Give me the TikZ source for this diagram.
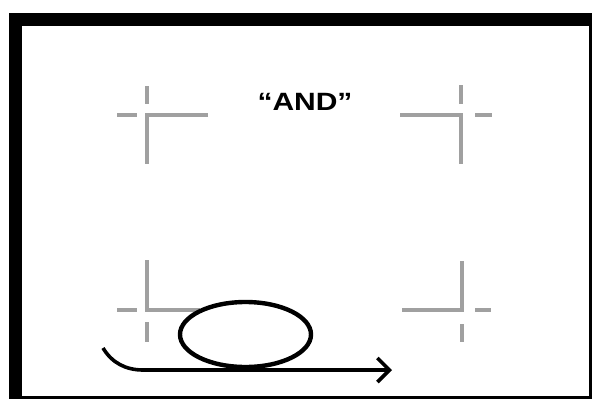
\documentclass[tikz,border=0pt]{standalone}
\usepackage{fontspec}
\setmainfont{Liberation Sans}
\usetikzlibrary{arrows.meta}
\definecolor{markgray}{RGB}{160,160,160}
\tikzset{
  cropmark/.style={draw=markgray, line width=3.2pt},
  inkline/.style={draw=black, line width=4.4pt},
}
\begin{document}
\begin{tikzpicture}[x=1pt,y=-1pt]
\useasboundingbox (0,0) rectangle (594,399);
\fill[white] (0,0) rectangle (594,399);
% frame
\fill[black] (9,13) rectangle (22,399);
\fill[black] (9,13) rectangle (592,26);
\fill[black] (589,13) rectangle (592,399);
\fill[black] (9,396) rectangle (592,399);
% title
\node[font=\bfseries\fontsize{25}{29}\selectfont, xscale=1.2, inner sep=0] (title) at (305,102) {“AND”};
% crop marks top-left
\draw[cropmark] (208,115) -- (147,115) -- (147,164);
\draw[cropmark] (117,115) -- (137,115);
\draw[cropmark] (147,86) -- (147,104);
% top-right
\draw[cropmark] (400,115) -- (461,115) -- (461,164);
\draw[cropmark] (475,115) -- (492,115);
\draw[cropmark] (461,85) -- (461,104);
% bottom-left
\draw[cropmark] (147,260) -- (147,310) -- (200,310);
\draw[cropmark] (117,310) -- (137,310);
\draw[cropmark] (147,322) -- (147,342);
% bottom-right
\draw[cropmark] (462,261) -- (462,310) -- (402,310);
\draw[cropmark] (475,310) -- (491,310);
\draw[cropmark] (462,324) -- (462,342);
% loop
\draw[inkline, fill=none] (245.5,334.5) ellipse [x radius=65.5, y radius=32.5];
\coordinate (s) at (103,348);
\coordinate (b) at (143,370);
\coordinate (e) at (392,370);
\draw[inkline, line width=3.6pt, -{Straight Barb[length=12pt,width=24pt,line width=3.6pt]}] (s) .. controls (112,363) and (126,370) .. (b) -- (e);
\end{tikzpicture}
\end{document}
